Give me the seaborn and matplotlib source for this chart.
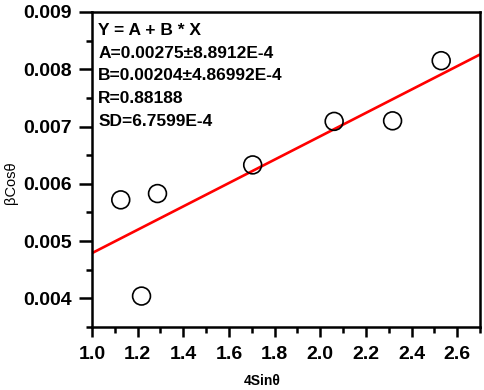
import matplotlib
matplotlib.use("Agg")
import matplotlib.pyplot as plt
import seaborn as sns
import numpy as np
import pandas as pd
from matplotlib.ticker import MultipleLocator

# Data
x_vals = [1.126, 1.217, 1.287, 1.704, 2.061, 2.317, 2.530]
y_vals = [0.00572, 0.00404, 0.00583, 0.00633, 0.00709, 0.00710, 0.00815]
fit_A = 0.00275
fit_B = 0.00204
fit_x_range = [1.0, 2.7]
fit_lines = ["Y = A + B * X",
             "A=0.00275\u00b18.8912E-4",
             "B=0.00204\u00b14.86992E-4",
             "R=0.88188",
             "SD=6.7599E-4"]
x_ticks = [1.0, 1.2, 1.4, 1.6, 1.8, 2.0, 2.2, 2.4, 2.6]
y_ticks = [0.004, 0.005, 0.006, 0.007, 0.008, 0.009]

sns.set_theme(style="ticks")
plt.rcParams['font.family'] = ['Liberation Sans', 'DejaVu Sans']
plt.rcParams.update({
    "text.color": "black", "axes.labelcolor": "black",
    "xtick.color": "black", "ytick.color": "black",
    "ytick.major.size": 9.5, "ytick.minor.size": 4.5,
    "xtick.major.size": 7, "xtick.minor.size": 4,
    "ytick.major.width": 1.8, "ytick.minor.width": 1.8,
    "xtick.major.width": 1.8, "xtick.minor.width": 1.8,
    "ytick.major.pad": 5, "xtick.major.pad": 7,
    "xtick.labelsize": 14, "ytick.labelsize": 14,
    "xtick.direction": "out", "ytick.direction": "out",
})

fig = plt.figure(figsize=(4.84, 3.90), dpi=100)
ax = fig.add_axes([92/484, 1 - 327/390, (480-92)/484, (327-12)/390])

df = pd.DataFrame({"x": x_vals, "y": y_vals})
fx = np.array(fit_x_range)
fit_df = pd.DataFrame({"x": fx, "y": fit_A + fit_B * fx})

sns.lineplot(data=fit_df, x="x", y="y", ax=ax, color="red", linewidth=1.9, zorder=2)
sns.scatterplot(data=df, x="x", y="y", ax=ax, s=165, facecolor="none",
                edgecolor="black", linewidth=1.2, zorder=3)

ax.set_xlim(1.0, 2.7)
ax.set_ylim(0.0035, 0.009)
ax.set_xticks(x_ticks)
ax.set_yticks(y_ticks)
ax.set_xticklabels([f"{t:.1f}" for t in x_ticks])
ax.set_yticklabels([f"{t:.3f}" for t in y_ticks])
ax.xaxis.set_minor_locator(MultipleLocator(0.1))
ax.yaxis.set_minor_locator(MultipleLocator(0.0005))

for s in ax.spines.values():
    s.set_linewidth(1.8)
    s.set_color("black")
ax.tick_params(which="both", colors="black")
for lab in ax.get_xticklabels() + ax.get_yticklabels():
    lab.set_fontweight("bold")

ax.set_xlabel("4Sin\u03b8", fontsize=10, fontweight="bold", color="black")
ax.xaxis.set_label_coords(0.438, -0.148)
ax.set_ylabel("\u03b2Cos\u03b8", fontsize=10.5, color="black")
ax.yaxis.set_label_coords(-0.19, 0.457)

ax.text(0.016, 0.965, "\n".join(fit_lines), transform=ax.transAxes, ha="left", va="top",
        fontsize=12.5, fontweight="bold", linespacing=1.64, color="black")

fig.savefig("out.png", dpi=100)
